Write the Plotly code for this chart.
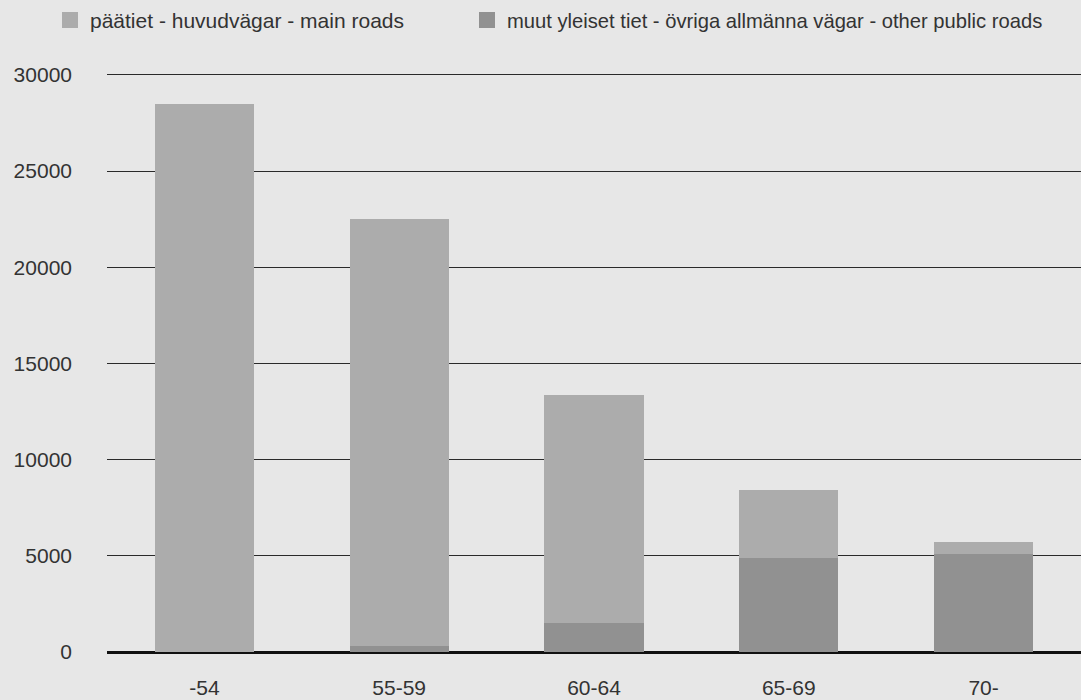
import plotly.graph_objects as go

# periods (x categories)
periods = ["-54", "55-59", "60-64", "65-69", "70-"]
# other public roads (bottom, darker)
other_roads = [0, 300, 1500, 4900, 5100]
# main roads (stacked on top, lighter)
main_roads = [28500, 22200, 11850, 3500, 600]

name_main = "päätiet - huvudvägar - main roads"
name_other = "muut yleiset tiet - övriga allmänna vägar - other public roads"

BG = "#e7e7e7"
C_MAIN = "#acacac"
C_OTHER = "#919191"
FONT = "Liberation Sans, Arial, sans-serif"

fig = go.Figure()
fig.add_trace(go.Bar(x=periods, y=other_roads, name=name_other, showlegend=False,
                     marker=dict(color=C_OTHER, line=dict(width=0))))
fig.add_trace(go.Bar(x=periods, y=main_roads, name=name_main, showlegend=False,
                     marker=dict(color=C_MAIN, line=dict(width=0))))
# legend entries with bigger square swatches, one legend box each
for nm, col, lg in [(name_main, C_MAIN, "legend"), (name_other, C_OTHER, "legend2")]:
    fig.add_trace(go.Scatter(x=[None], y=[None], mode="markers", name=nm, legend=lg,
                             marker=dict(symbol="square", size=20, color=col)))

leg = dict(orientation="h", xref="container", yref="container", y=0.971,
           xanchor="left", yanchor="middle", itemsizing="trace",
           bgcolor="rgba(0,0,0,0)")

fig.update_layout(
    width=1081, height=700,
    barmode="stack", bargap=0.49,
    paper_bgcolor=BG, plot_bgcolor=BG,
    font=dict(family=FONT, size=21, color="#333333"),
    margin=dict(l=107, r=0, t=73, b=48),
    showlegend=True,
    legend=dict(leg, x=50 / 1081, font=dict(size=21, color="#333333")),
    legend2=dict(leg, x=467 / 1081, font=dict(size=20.2, color="#333333")),
    xaxis=dict(showgrid=False, showline=False, zeroline=False, ticks="",
               automargin=False, tickfont=dict(size=21), ticklabelstandoff=21),
    yaxis=dict(range=[0, 30100], tickvals=[0, 5000, 10000, 15000, 20000, 25000, 30000],
               tickformat="d", showgrid=True, gridcolor="#2a2a2a", gridwidth=1,
               zeroline=True, zerolinecolor="#111111", zerolinewidth=2.5,
               showline=False, ticks="", automargin=False, ticklabelstandoff=34,
               tickfont=dict(size=21)),
)

# page has a default 8px body margin: drop it so the figure fills the window
fig.write_html("out.html", config={"displayModeBar": False},
               post_script="document.body.style.margin='0';")
